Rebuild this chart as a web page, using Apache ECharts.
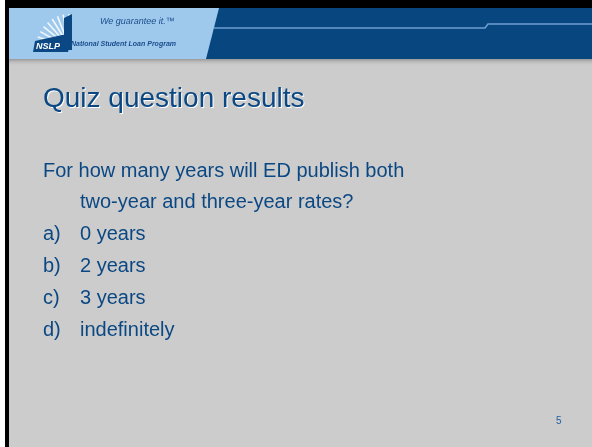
<!DOCTYPE html>
<html><head><meta charset="utf-8">
<script src="https://cdn.jsdelivr.net/npm/echarts@6/dist/echarts.min.js"></script>
<style>html,body{margin:0;padding:0;background:#fff}#c{width:592px;height:447px}</style>
</head><body><div id="c"></div>
<script>
const slideTitle = "Quiz question results";
const questionLines = ["For how many years will ED publish both", "two-year and three-year rates?"];
const answerLabels = ["a)", "b)", "c)", "d)"];
const answerTexts = ["0 years", "2 years", "3 years", "indefinitely"];
const tagline = "We guarantee it.\u2122";
const orgName = "National Student Loan Program";
const pageNumber = "5";

const chart = echarts.init(document.getElementById('c'), null, {renderer: 'canvas'});
const blue = '#0b4883';
const font = 'Liberation Sans, Arial, sans-serif';
const g = [];
// background
g.push({type:'rect', shape:{x:0,y:0,width:592,height:447}, style:{fill:'#ffffff'}});
g.push({type:'rect', shape:{x:5,y:0,width:587,height:447}, style:{fill:'#000000'}});
g.push({type:'rect', shape:{x:9,y:8,width:583,height:439}, style:{fill:'#cccccc'}});
// header shadow
g.push({type:'rect', shape:{x:9,y:58,width:583,height:8}, style:{fill:new echarts.graphic.LinearGradient(0,0,0,1,[{offset:0,color:'rgba(90,90,90,0.6)'},{offset:1,color:'rgba(204,204,204,0)'}])}});
// dark header
g.push({type:'rect', shape:{x:9,y:8,width:583,height:51}, style:{fill:'#08467f'}});
// light part
g.push({type:'polygon', shape:{points:[[9,8],[219,8],[206,59],[9,59]]}, style:{fill:'#9ec9ec'}});
// header line
g.push({type:'polyline', shape:{points:[[214,28],[485,28],[488,24],[592,24]]}, style:{stroke:'#6d9fd2', lineWidth:1.5, fill:null}});
// logo rays
for (let i=0;i<9;i++){
  const a = Math.PI*(1.05 + i*0.055);
  g.push({type:'line', shape:{x1:70,y1:48,x2:70+Math.cos(a)*34,y2:48+Math.sin(a)*34}, style:{stroke:'#ffffff', lineWidth:1.6, opacity:0.85}});
}
g.push({type:'polygon', shape:{points:[[64,18],[72,14],[72,50],[64,50]]}, style:{fill:'#0b4883'}});
g.push({type:'polygon', shape:{points:[[35,41],[62,35],[72,35],[68,52],[33,52]]}, style:{fill:'#0b4883'}});
g.push({type:'text', left:36, top:42, style:{text:'NSLP', font:'italic bold 9px '+font, fill:'#ffffff'}});
g.push({type:'text', left:100, top:17, style:{text:tagline, font:'italic 9px '+font, fill:'#1b4d8c'}});
g.push({type:'text', left:71, top:41, style:{text:orgName, font:'italic bold 7px '+font, fill:'#1b4d8c'}});
// title
g.push({type:'text', left:44, top:86, style:{text:slideTitle, font:'28px '+font, fill:'#ffffff'}});
g.push({type:'text', left:43, top:85, style:{text:slideTitle, font:'28px '+font, fill:blue}});
// question
const lineH = 31.8;
let y = 161;
g.push({type:'text', left:43, top:y, style:{text:questionLines[0], font:'20px '+font, fill:blue}});
y += lineH;
g.push({type:'text', left:80, top:y, style:{text:questionLines[1], font:'20px '+font, fill:blue}});
for (let i=0;i<answerLabels.length;i++){
  y += lineH;
  g.push({type:'text', left:43, top:y, style:{text:answerLabels[i], font:'20px '+font, fill:blue}});
  g.push({type:'text', left:80, top:y, style:{text:answerTexts[i], font:'20px '+font, fill:blue}});
}
g.push({type:'text', left:556, top:416, style:{text:pageNumber, font:'10px '+font, fill:'#1f5f9f'}});
chart.setOption({animation:false, graphic:{elements:g}});
</script></body></html>
